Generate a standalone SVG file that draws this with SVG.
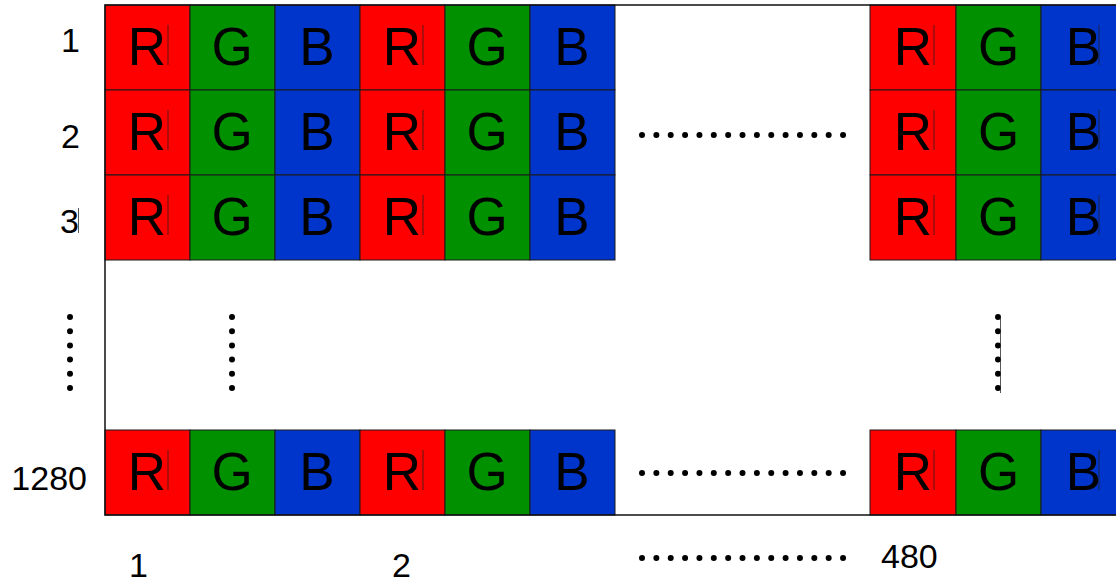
<svg xmlns="http://www.w3.org/2000/svg" width="1116" height="583" viewBox="0 0 1116 583">
<style>
.r{fill:#ff0000}
.g{fill:#009000}
.b{fill:#0035cc}
.cell{stroke:#1a1a1a;stroke-width:1}
.lt{font-family:"Liberation Sans",Arial,sans-serif;font-size:53px;fill:#000;text-anchor:middle}
.num{font-family:"Liberation Sans",Arial,sans-serif;font-size:34px;fill:#000}
.tick{stroke:#222;stroke-width:1;opacity:0.75}
.hdots{stroke:#000;stroke-width:6;stroke-linecap:round;stroke-dasharray:0 14.36;fill:none}
.vdots{stroke:#000;stroke-width:6;stroke-linecap:round;stroke-dasharray:0 14.2;fill:none}
</style>
<defs>
<g id="rgb">
<rect class="cell r" x="0" y="0" width="85" height="85"/>
<rect class="cell g" x="85" y="0" width="85" height="85"/>
<rect class="cell b" x="170" y="0" width="85" height="85"/>
<text class="lt" x="42" y="60">R</text>
<text class="lt" x="127" y="60">G</text>
<text class="lt" x="212" y="60">B</text>
<line class="tick" x1="63" y1="20" x2="63" y2="60"/>
</g>
<g id="rgbRight">
<rect class="cell r" x="0" y="0" width="86" height="85"/>
<rect class="cell g" x="86" y="0" width="85" height="85"/>
<rect class="cell b" x="171" y="0" width="90" height="85"/>
<text class="lt" x="43" y="60">R</text>
<text class="lt" x="128.5" y="60">G</text>
<text class="lt" x="213.5" y="60">B</text>
<line class="tick" x1="64" y1="20" x2="64" y2="60"/>
<line class="tick" x1="229" y1="20" x2="229" y2="60"/>
</g>
</defs>
<rect x="0" y="0" width="1116" height="583" fill="#fff"/>
<rect x="105" y="5" width="1030" height="510" fill="#fff"/>
<g id="row1">
<use href="#rgb" x="105" y="5"/>
<use href="#rgb" x="360" y="5"/>
<use href="#rgbRight" x="870" y="5"/>
</g>
<g id="row2">
<use href="#rgb" x="105" y="90"/>
<use href="#rgb" x="360" y="90"/>
<use href="#rgbRight" x="870" y="90"/>
</g>
<g id="row3">
<use href="#rgb" x="105" y="175"/>
<use href="#rgb" x="360" y="175"/>
<use href="#rgbRight" x="870" y="175"/>
</g>
<g id="row1280">
<use href="#rgb" x="105" y="430"/>
<use href="#rgb" x="360" y="430"/>
<use href="#rgbRight" x="870" y="430"/>
</g>
<rect id="frame" x="105" y="5" width="1030" height="510" fill="none" stroke="#111" stroke-width="1.5"/>
<g id="row-labels">
<text class="num" x="80" y="52" text-anchor="end">1</text>
<text class="num" x="80" y="148" text-anchor="end">2</text>
<text class="num" x="79" y="233" text-anchor="end">3</text>
<line class="tick" x1="78.5" y1="208" x2="78.5" y2="233"/>
<text class="num" x="87" y="490" text-anchor="end" font-size="33">1280</text>
</g>
<g id="column-labels">
<text class="num" x="129" y="577">1</text>
<text class="num" x="392" y="577">2</text>
<text class="num" x="881" y="568">480</text>
</g>
<g id="ellipses">
<line class="hdots" x1="642" y1="135" x2="847" y2="135"/>
<line class="hdots" x1="642" y1="473" x2="847" y2="473"/>
<line class="hdots" x1="642" y1="558" x2="847" y2="558"/>
<line class="vdots" x1="70" y1="317" x2="70" y2="390"/>
<line class="vdots" x1="232" y1="317" x2="232" y2="390"/>
<line class="vdots" x1="998" y1="317" x2="998" y2="390"/>
<line class="tick" x1="1000.5" y1="316" x2="1000.5" y2="393"/>
</g>
</svg>
